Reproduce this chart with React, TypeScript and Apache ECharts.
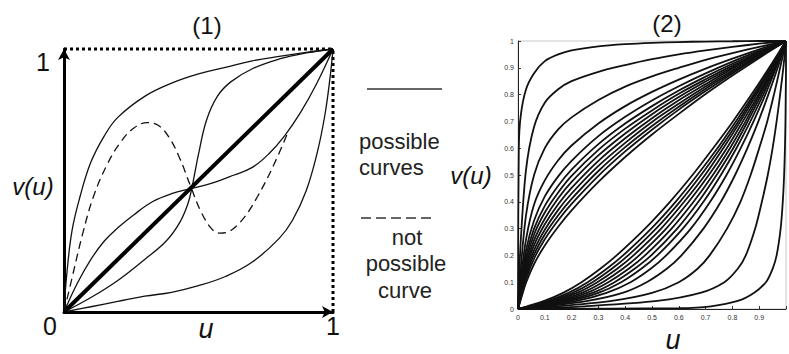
import React, { useEffect, useRef } from "react";
import * as echarts from "echarts";

const FONT = '"Liberation Sans", Arial, sans-serif';

// ---------- Panel (1): sketched possible / not possible curves ----------
const diagonalLine = [[0, 0], [1, 1]];
const concaveCurve = [[0, 0], [0.01, 0.14], [0.03, 0.31], [0.06, 0.44], [0.1, 0.57], [0.15, 0.67], [0.2, 0.74], [0.3, 0.82], [0.4, 0.87], [0.5, 0.905], [0.6, 0.93], [0.7, 0.955], [0.8, 0.972], [0.9, 0.987], [1, 1]];
const convexCurve = [[0, 0], [0.1, 0.02], [0.2, 0.04], [0.3, 0.06], [0.4, 0.075], [0.5, 0.1], [0.6, 0.135], [0.7, 0.19], [0.8, 0.28], [0.85, 0.35], [0.9, 0.46], [0.94, 0.6], [0.97, 0.75], [0.99, 0.9], [1, 1]];
const steepSCurve = [[0, 0], [0.1, 0.055], [0.2, 0.12], [0.3, 0.2], [0.38, 0.27], [0.43, 0.34], [0.46, 0.41], [0.475, 0.47], [0.5, 0.6], [0.53, 0.73], [0.57, 0.82], [0.62, 0.875], [0.7, 0.925], [0.8, 0.962], [0.9, 0.985], [1, 1]];
const flatSCurve = [[0, 0], [0.05, 0.11], [0.1, 0.2], [0.15, 0.27], [0.2, 0.32], [0.26, 0.37], [0.33, 0.42], [0.4, 0.45], [0.475, 0.47], [0.55, 0.49], [0.63, 0.52], [0.7, 0.55], [0.76, 0.6], [0.82, 0.67], [0.88, 0.76], [0.94, 0.87], [1, 1]];
const notPossibleCurve = [[0, 0], [0.03, 0.13], [0.07, 0.3], [0.11, 0.44], [0.16, 0.56], [0.21, 0.645], [0.26, 0.7], [0.31, 0.72], [0.35, 0.71], [0.39, 0.665], [0.43, 0.585], [0.47, 0.48], [0.51, 0.38], [0.55, 0.315], [0.58, 0.3], [0.62, 0.31], [0.67, 0.36], [0.72, 0.44], [0.78, 0.56], [0.835, 0.69]];
const topBorder = [[0, 1], [1, 1]];
const rightBorder = [[1, 0], [1, 1]];

// ---------- Panel (2): family of curves ----------
const uGrid2 = [0, 0.003, 0.01, 0.03, 0.06, 0.1, 0.15, 0.2, 0.3, 0.4, 0.5, 0.6, 0.7, 0.8, 0.9, 1];
const upper1 = [0, 0.6, 0.72, 0.82, 0.88, 0.925, 0.95, 0.965, 0.98, 0.988, 0.993, 0.996, 0.998, 0.999, 1, 1];
const upper2 = [0, 0.08, 0.25, 0.52, 0.68, 0.77, 0.82, 0.85, 0.885, 0.91, 0.932, 0.95, 0.965, 0.978, 0.99, 1];
const upper3 = [0, 0.05, 0.15, 0.35, 0.5, 0.6, 0.67, 0.715, 0.78, 0.83, 0.868, 0.9, 0.93, 0.955, 0.978, 1];
const upper4 = [0, 0.035, 0.11, 0.26, 0.39, 0.48, 0.555, 0.61, 0.692, 0.757, 0.81, 0.856, 0.897, 0.934, 0.969, 1];
const upper5 = [0, 0.028, 0.09, 0.22, 0.33, 0.42, 0.495, 0.553, 0.645, 0.717, 0.778, 0.831, 0.879, 0.923, 0.963, 1];
const upper6 = [0, 0.024, 0.078, 0.195, 0.3, 0.385, 0.46, 0.52, 0.615, 0.692, 0.757, 0.815, 0.867, 0.915, 0.959, 1];
const upper7 = [0, 0.021, 0.07, 0.178, 0.278, 0.36, 0.435, 0.497, 0.594, 0.673, 0.741, 0.803, 0.857, 0.908, 0.956, 1];
const upper8 = [0, 0.019, 0.062, 0.162, 0.257, 0.337, 0.413, 0.474, 0.573, 0.655, 0.727, 0.791, 0.849, 0.902, 0.953, 1];
const upper9 = [0, 0.017, 0.056, 0.148, 0.238, 0.316, 0.391, 0.452, 0.553, 0.637, 0.712, 0.779, 0.839, 0.897, 0.95, 1];
const upper10 = [0, 0.015, 0.05, 0.135, 0.22, 0.296, 0.37, 0.431, 0.534, 0.62, 0.698, 0.766, 0.83, 0.89, 0.946, 1];
const upper11 = [0, 0.013, 0.045, 0.123, 0.204, 0.278, 0.35, 0.411, 0.515, 0.604, 0.683, 0.755, 0.822, 0.884, 0.944, 1];
const upper12 = [0, 0.012, 0.04, 0.112, 0.188, 0.26, 0.331, 0.392, 0.497, 0.588, 0.669, 0.744, 0.813, 0.879, 0.941, 1];
const upper13 = [0, 0.01, 0.034, 0.098, 0.168, 0.237, 0.307, 0.368, 0.474, 0.567, 0.651, 0.728, 0.802, 0.871, 0.937, 1];
const upperFamily = [upper1, upper2, upper3, upper4, upper5, upper6, upper7, upper8, upper9, upper10, upper11, upper12, upper13];
const xTickLabels2 = ["0", "0.1", "0.2", "0.3", "0.4", "0.5", "0.6", "0.7", "0.8", "0.9", ""];
const yTickLabels2 = ["0", "0.1", "0.2", "0.3", "0.4", "0.5", "0.6", "0.7", "0.8", "0.9", "1"];

export default function App() {
  const ref = useRef<HTMLDivElement>(null);

  useEffect(() => {
    if (!ref.current) return;
    const chart = echarts.init(ref.current, null, { renderer: "svg" });

    const thin = (data: number[][], extra: any = {}) => ({
      type: "line",
      xAxisIndex: 0,
      yAxisIndex: 0,
      data,
      symbol: "none",
      showSymbol: false,
      smooth: 0.4,
      clip: false,
      silent: true,
      lineStyle: { color: "#111", width: 1.3, ...(extra.lineStyle || {}) },
      ...extra.rest,
    });

    const fam = (data: number[][]) => ({
      type: "line",
      xAxisIndex: 1,
      yAxisIndex: 1,
      data,
      symbol: "none",
      showSymbol: false,
      smooth: 0.3,
      clip: false,
      silent: true,
      lineStyle: { color: "#111", width: 1.8 },
    });

    const series: any[] = [
      thin(topBorder, { lineStyle: { width: 3, type: [3, 3], color: "#000" }, rest: { smooth: false } }),
      thin(rightBorder, { lineStyle: { width: 3, type: [3, 3], color: "#000" }, rest: { smooth: false } }),
      thin(concaveCurve),
      thin(convexCurve),
      thin(steepSCurve),
      thin(flatSCurve),
      thin(notPossibleCurve, { lineStyle: { type: [8, 5] } }),
      thin(diagonalLine, { lineStyle: { width: 4, color: "#000" }, rest: { smooth: false } }),
    ];
    upperFamily.forEach((arr) => {
      series.push(fam(uGrid2.map((u, i) => [u, arr[i]])));
      series.push(fam(uGrid2.map((u, i) => [arr[i], u])));
    });

    const txt = (text: string, x: number, y: number, size: number, opts: any = {}) => ({
      type: "text",
      x,
      y,
      silent: true,
      style: {
        text,
        fontSize: size,
        fontFamily: FONT,
        fontStyle: opts.italic ? "italic" : "normal",
        fill: opts.fill || "#111",
        align: opts.align || "center",
        verticalAlign: "middle",
      },
    });

    const panel1Axis = (gridIndex: number) => ({
      gridIndex,
      type: "value",
      min: 0,
      max: 1,
      axisLine: {
        show: true,
        lineStyle: { color: "#000", width: 3 },
        symbol: ["none", "arrow"],
        symbolSize: [9, 11],
      },
      axisTick: { show: false },
      axisLabel: { show: false },
      splitLine: { show: false },
    });

    const option: any = {
      animation: false,
      backgroundColor: "#fff",
      grid: [
        { left: 64, top: 49, width: 269, height: 263, show: false },
        { left: 518, top: 41, width: 271, height: 268, show: true, borderColor: "#c8c8c8", borderWidth: 1, backgroundColor: "transparent" },
      ],
      xAxis: [
        panel1Axis(0),
        {
          gridIndex: 1,
          type: "value",
          min: 0,
          max: 1,
          interval: 0.1,
          axisLine: { show: true, lineStyle: { color: "#222", width: 1 } },
          axisTick: { show: true, inside: true, length: 3, lineStyle: { color: "#333" } },
          axisLabel: {
            fontSize: 7,
            fontFamily: FONT,
            color: "#333",
            margin: 5,
            showMinLabel: true,
            showMaxLabel: true,
            formatter: (v: number) => xTickLabels2[Math.round(v * 10)] ?? "",
          },
          splitLine: { show: false },
        },
      ],
      yAxis: [
        panel1Axis(0),
        {
          gridIndex: 1,
          type: "value",
          min: 0,
          max: 1,
          interval: 0.1,
          axisLine: { show: true, lineStyle: { color: "#222", width: 1 } },
          axisTick: { show: true, inside: true, length: 3, lineStyle: { color: "#333" } },
          axisLabel: {
            fontSize: 7,
            fontFamily: FONT,
            color: "#333",
            margin: 4,
            showMinLabel: true,
            showMaxLabel: true,
            formatter: (v: number) => yTickLabels2[Math.round(v * 10)] ?? "",
          },
          splitLine: { show: false },
        },
      ],
      series,
      graphic: [
        txt("(1)", 207, 25, 24),
        txt("1", 43, 62, 25),
        txt("0", 50, 326, 25),
        txt("u", 206, 329, 27, { italic: true }),
        txt("1", 333, 326, 25),
        txt("v(u)", 33, 186, 24, { italic: true }),
        txt("(2)", 667, 23, 24),
        txt("v(u)", 471, 175, 24, { italic: true }),
        txt("u", 673, 340, 27, { italic: true }),
        {
          type: "line",
          silent: true,
          shape: { x1: 367, y1: 89, x2: 442, y2: 89 },
          style: { stroke: "#333", lineWidth: 1.5 },
        },
        txt("possible", 359, 141, 22, { align: "left", fill: "#222" }),
        txt("curves", 359, 167, 22, { align: "left", fill: "#222" }),
        {
          type: "line",
          silent: true,
          shape: { x1: 361, y1: 218, x2: 432, y2: 218 },
          style: { stroke: "#333", lineWidth: 1.5, lineDash: [10, 5] },
        },
        txt("not", 407, 237, 22, { fill: "#222" }),
        txt("possible", 406, 263, 22, { fill: "#222" }),
        txt("curve", 405, 290, 22, { fill: "#222" }),
      ],
    };

    chart.setOption(option);
    return () => chart.dispose();
  }, []);

  return (
    <div
      ref={ref}
      style={{ position: "absolute", left: 0, top: 0, width: 789, height: 354, background: "#fff" }}
    />
  );
}
